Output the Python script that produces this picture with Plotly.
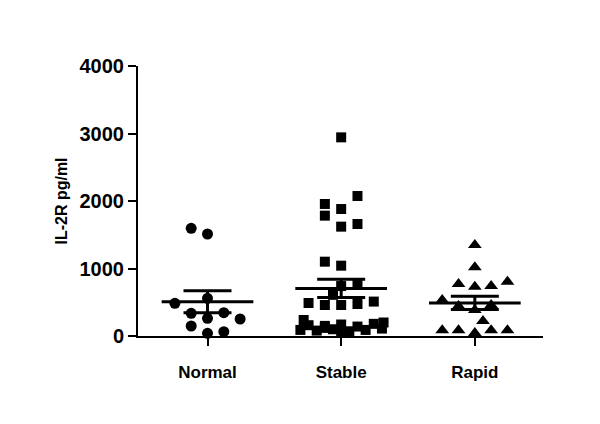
import numpy as np
import plotly.graph_objects as go

categories = ["Normal", "Stable", "Rapid"]

normal_values = [1595, 1511, 484, 558, 336, 262, 346, 252, 148, 64, 40]
normal_slots = [-1, 0, -2, 0, -1, 0, 1, 2, -1, 1, 0]

stable_values = [2943, 2074, 1956, 1881, 1783, 1659, 1620, 1101, 1042,
                 780, 740, 610, 510, 489, 459, 459, 474, 237,
                 160, 150, 170, 140, 180, 200, 90, 80, 100, 70, 90, 110, 120, 60]
stable_slots = [0, 1, -1, 0, -1, 1, 0, -1, 0,
                1, 0, -0.5, 2, -2, -1, 0, 1, -2.3,
                -2, -1, 0, 1, 2, 2.6, -2.5, -1.5, -0.5, 0.5, 1.5, 2.5, -1, 0]

rapid_values = [1348, 1020, 770, 730, 741, 805, 533, 444, 385, 459, 222, 85, 85, 45, 85, 85]
rapid_slots = [0, 0, -1, 0, 1, 2, -2, -1, 0, 1, 0.5, -2, -1, 0, 1, 2]

y_ticks = [0, 1000, 2000, 3000, 4000]

groups = [
    (normal_values, normal_slots, "circle", 11),
    (stable_values, stable_slots, "square", 10),
    (rapid_values, rapid_slots, "triangle-up", 12),
]

SLOT_W = 0.122
MEAN_HALF = 0.343

fig = go.Figure()
for i, (vals, slots, sym, size) in enumerate(groups):
    v = np.array(vals, dtype=float)
    mean = v.mean()
    sem = v.std(ddof=1) / np.sqrt(len(v))
    fig.add_trace(go.Scatter(x=[i - MEAN_HALF, i + MEAN_HALF], y=[mean, mean],
                             mode="lines", line=dict(color="black", width=3),
                             showlegend=False, hoverinfo="skip", cliponaxis=False))
    fig.add_trace(go.Scatter(x=[i], y=[mean], mode="markers",
                             marker=dict(size=1, color="rgba(0,0,0,0)"),
                             error_y=dict(type="data", array=[sem], visible=True,
                                          width=24, thickness=3, color="black"),
                             showlegend=False, hoverinfo="skip", cliponaxis=False))
    xs = [i + s * SLOT_W for s in slots]
    fig.add_trace(go.Scatter(x=xs, y=vals, mode="markers",
                             marker=dict(symbol=sym, size=size, color="black",
                                         line=dict(width=0)),
                             showlegend=False, cliponaxis=False))

font_family = "Liberation Sans, Arial, sans-serif"

fig.update_layout(
    width=600, height=424,
    margin=dict(l=130, r=65, t=58, b=96),
    plot_bgcolor="white", paper_bgcolor="white",
    font=dict(family=font_family, color="black"),
    showlegend=False,
)
fig.update_xaxes(
    range=[-0.52, 2.51], tickvals=[0, 1, 2], ticktext=categories,
    showline=True, linecolor="black", linewidth=2,
    ticks="outside", ticklen=8, tickwidth=2, tickcolor="black",
    ticklabelstandoff=12,
    tickfont=dict(size=17, family=font_family, color="black", weight="bold"),
    showgrid=False, zeroline=False,
)
fig.update_yaxes(
    range=[0, 4000], tickvals=y_ticks, ticktext=[str(t) for t in y_ticks],
    showline=True, linecolor="black", linewidth=2,
    ticks="outside", ticklen=8, tickwidth=2, tickcolor="black",
    tickfont=dict(size=20, family=font_family, color="black", weight="bold"),
    showgrid=False, zeroline=False,
    title=dict(text="IL-2R pg/ml", standoff=8,
               font=dict(size=16, family=font_family, color="black", weight="bold")),
)

fig.write_html("out.html")
